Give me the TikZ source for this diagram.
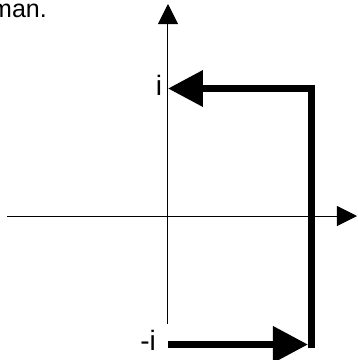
\documentclass[tikz,border=0pt]{standalone}
\usepackage{fontspec}
\setmainfont{Liberation Sans}
\usetikzlibrary{arrows.meta}
\tikzset{
  axis/.style={line width=1pt, -{Triangle[length=20pt,width=20pt]}},
  fatpath/.style={line width=7pt, line join=miter, -{Triangle[length=35pt,width=35pt]}},
  lbl/.style={inner sep=0pt, font=\fontsize{28}{32}\selectfont}
}

\begin{document}
\begin{tikzpicture}[x=1pt,y=-1pt]
  \useasboundingbox (0,0) rectangle (358,360);
  \node[lbl, anchor=base east, font=\fontsize{25}{30}\selectfont] (word) at (47,17) {man.};
  % axes
  \coordinate (xleft) at (7,216);
  \coordinate (xright) at (357,216);
  \coordinate (ylow) at (168,324);
  \coordinate (yhigh) at (168,4);
  \draw[axis] (xleft) -- (xright);
  \draw[axis] (ylow) -- (yhigh);
  % labels
  \node[lbl, anchor=base] (plusi) at (159,95) {i};
  \node[lbl, anchor=base east] (minusi) at (156,350) {-i};
  % path
  \coordinate (lowstart) at (168,344.5);
  \coordinate (lowtip) at (308,344.5);
  \coordinate (rightlow) at (312,348);
  \coordinate (righthigh) at (312,88.5);
  \coordinate (hightip) at (168,88.5);
  \draw[fatpath] (lowstart) -- (lowtip);
  \draw[fatpath] (rightlow) -- (righthigh) -- (hightip);
\end{tikzpicture}
\end{document}
